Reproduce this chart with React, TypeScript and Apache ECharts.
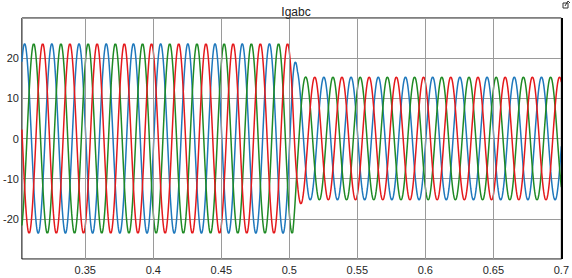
import React, { useEffect, useRef } from "react";
import * as echarts from "echarts";

// Values
const timeRange = [0.3034, 0.7];
const sampleStep = 0.0002;
const frequencyHz = 50;
const seriesNames = ["Ia", "Ib", "Ic"];
const seriesColors = ["#1f78bc", "#1f8a24", "#e4191c"];
// time of first positive peak of each phase (s)
const firstPeakTimes = [0.3054, 0.3121, 0.3187];
// amplitude envelope (breakpoints)
const envelopeTimes = [0.3034, 0.5025, 0.506, 0.512, 0.7];
const envelopeAmps = [23.6, 23.6, 17.0, 15.3, 15.3];
const xTicks = [0.35, 0.4, 0.45, 0.5, 0.55, 0.6, 0.65, 0.7];
const xTickLabels = ["0.35", "0.4", "0.45", "0.5", "0.55", "0.6", "0.65", "0.7"];
const yTicks = [-20, -10, 0, 10, 20];
const yRange = [-30, 30];

function envelopeAt(t: number) {
  for (let i = 0; i < envelopeTimes.length - 1; i++) {
    const a = envelopeTimes[i];
    const b = envelopeTimes[i + 1];
    if (t <= b) {
      const f = b === a ? 0 : (t - a) / (b - a);
      return envelopeAmps[i] + (envelopeAmps[i + 1] - envelopeAmps[i]) * Math.max(0, f);
    }
  }
  return envelopeAmps[envelopeAmps.length - 1];
}

function buildSeriesData(k: number) {
  const out: [number, number][] = [];
  const n = Math.round((timeRange[1] - timeRange[0]) / sampleStep);
  for (let i = 0; i <= n; i++) {
    const t = timeRange[0] + i * sampleStep;
    const v = envelopeAt(t) * Math.cos(2 * Math.PI * frequencyHz * (t - firstPeakTimes[k]));
    out.push([t, v]);
  }
  return out;
}

export default function App() {
  const ref = useRef<HTMLDivElement>(null);
  useEffect(() => {
    if (!ref.current) return;
    const chart = echarts.init(ref.current, undefined, { renderer: "svg" });
    const font = "'Liberation Sans', Arial, sans-serif";
    const curves = seriesNames.map((name, k) => ({
      name,
      type: "line",
      data: buildSeriesData(k),
      showSymbol: false,
      symbol: "none",
      z: 3,
      lineStyle: { color: seriesColors[k], width: 1.5 },
      itemStyle: { color: seriesColors[k] },
    }));
    chart.setOption({
      animation: false,
      backgroundColor: "#ffffff",
      title: {
        text: "Igabc",
        left: 291,
        top: 1,
        textAlign: "center",
        textStyle: { fontFamily: font, fontSize: 12, fontWeight: "normal", color: "#222" },
      },
      grid: {
        left: 18,
        right: 10,
        top: 18,
        bottom: 19,
        show: true,
        borderColor: "#000",
        borderWidth: 1,
        backgroundColor: "transparent",
      },
      xAxis: {
        type: "value",
        min: timeRange[0],
        max: timeRange[1],
        axisLine: { show: false },
        axisTick: { show: false },
        splitLine: { show: false },
        axisLabel: {
          customValues: xTicks,
          formatter: (v: number) => {
            const i = xTicks.findIndex((x) => Math.abs(x - v) < 1e-6);
            return i >= 0 ? xTickLabels[i] : "";
          },
          fontFamily: font,
          fontSize: 11,
          color: "#262626",
          margin: 5,
          hideOverlap: false,
          showMaxLabel: true,
        },
      },
      yAxis: {
        type: "value",
        min: yRange[0],
        max: yRange[1],
        interval: 10,
        axisLine: { show: false },
        axisTick: { show: false },
        splitLine: { show: true, lineStyle: { color: "#9a9a9a", width: 1 } },
        axisLabel: {
          formatter: (v: number) => (yTicks.includes(v) ? String(v) : ""),
          fontFamily: font,
          fontSize: 11,
          color: "#262626",
          margin: 3,
        },
      },
      series: [
        {
          name: "grid",
          type: "line",
          data: [],
          z: 1,
          silent: true,
          markLine: {
            silent: true,
            symbol: "none",
            label: { show: false },
            lineStyle: { color: "#9a9a9a", width: 1, type: "solid" },
            data: xTicks.slice(0, -1).map((v) => ({ xAxis: v })),
          },
        },
        ...curves,
      ],
      graphic: [
        {
          type: "line",
          shape: { x1: 562, y1: 18, x2: 562, y2: 259 },
          style: { stroke: "#000", lineWidth: 2 },
          z: 10,
        },
        {
          type: "rect",
          shape: { x: 563, y: 3, width: 5, height: 5 },
          style: { fill: "none", stroke: "#333", lineWidth: 1 },
        },
        {
          type: "polyline",
          shape: { points: [[565, 6], [568, 1], [570, 3]] },
          style: { fill: "none", stroke: "#333", lineWidth: 1 },
        },
      ],
    });
    return () => chart.dispose();
  }, []);
  return (
    <div
      ref={ref}
      style={{ position: "fixed", left: 0, top: 0, width: 572, height: 278, background: "#fff" }}
    />
  );
}
